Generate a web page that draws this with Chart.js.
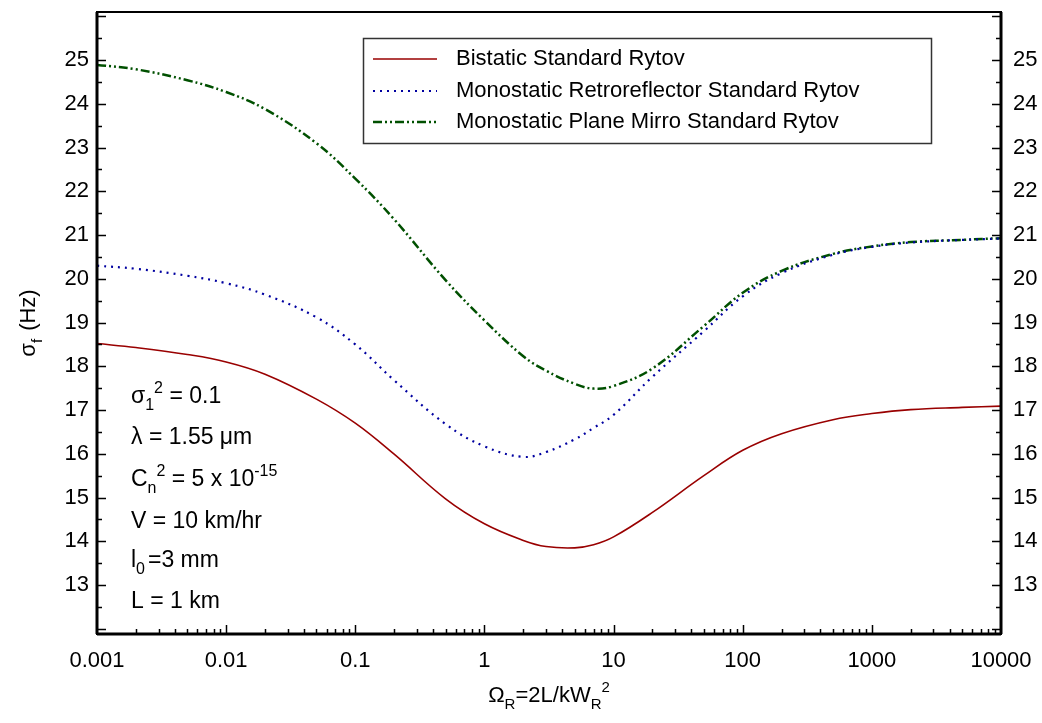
<!DOCTYPE html>
<html>
<head>
<meta charset="utf-8">
<script src="https://cdn.jsdelivr.net/npm/chart.js@4.4.1/dist/chart.umd.min.js"></script>
<style>
	html, body { margin: 0; padding: 0; background: #fff; }
	#wrap { width: 1042px; height: 723px; position: relative; }
</style>
</head>
<body>
<div id="wrap"><canvas id="chart"></canvas></div>
<script>
// x values (Omega_R, log axis)
const omegaR = [0.001, 0.002, 0.005, 0.01, 0.02, 0.05, 0.1, 0.2, 0.5, 1, 2, 3, 5, 7, 10, 20, 50, 100, 200, 500, 1000, 2000, 5000, 10000];

// sigma_f (Hz)
const bistatic = [18.52, 18.43, 18.27, 18.10, 17.82, 17.25, 16.70, 15.99, 14.97, 14.40, 14.02, 13.88, 13.85, 13.92, 14.10, 14.66, 15.50, 16.08, 16.46, 16.78, 16.92, 17.01, 17.06, 17.09];
const monoRetro = [20.30, 20.23, 20.07, 19.90, 19.64, 19.12, 18.50, 17.68, 16.68, 16.17, 15.93, 16.04, 16.33, 16.59, 16.89, 17.76, 18.80, 19.60, 20.13, 20.55, 20.73, 20.83, 20.89, 20.92];
const monoMirror = [24.89, 24.79, 24.54, 24.27, 23.88, 23.10, 22.29, 21.36, 19.97, 19.05, 18.23, 17.90, 17.60, 17.49, 17.55, 17.95, 18.92, 19.68, 20.18, 20.57, 20.74, 20.84, 20.89, 20.93];

const seriesLabels = [
	'Bistatic Standard Rytov',
	'Monostatic Retroreflector Standard Rytov',
	'Monostatic Plane Mirro Standard Rytov',
];

// tick labels
const xTicks = [0.001, 0.01, 0.1, 1, 10, 100, 1000, 10000];
const xTickLabels = ['0.001', '0.01', '0.1', '1', '10', '100', '1000', '10000'];
const yTicks = [13, 14, 15, 16, 17, 18, 19, 20, 21, 22, 23, 24, 25];

const FONT = '"Liberation Sans", Arial, sans-serif';

let toPoints = (ys) => ys.map((y, i) => ({ x: omegaR[i], y: y }));

// draw text with sub/superscript parts, returns end x
let drawRich = (ctx, parts, x, y, size) => {
	let cx = x;
	parts.forEach(p => {
		let s = p.sub || p.sup ? Math.round(size * 0.7) : size;
		let dy = p.sub ? size * 0.3 : (p.sup ? -size * 0.45 : 0);
		ctx.font = s + 'px ' + FONT;
		ctx.fillText(p.t, cx, y + dy);
		cx += ctx.measureText(p.t).width + (p.gap || 0);
	});
	return cx;
};

let richWidth = (ctx, parts, size) => {
	let w = 0;
	parts.forEach(p => {
		let s = p.sub || p.sup ? Math.round(size * 0.7) : size;
		ctx.font = s + 'px ' + FONT;
		w += ctx.measureText(p.t).width + (p.gap || 0);
	});
	return w;
};

// frame plus inward tick marks
let frameAndTicks = {
	id: 'frameAndTicks',
	afterDraw (chart) {
		let { ctx, chartArea: a, scales } = chart;
		ctx.save();
		ctx.strokeStyle = '#000';

		// y ticks, left and right
		ctx.lineWidth = 1.5;
		for (let v = 12; v <= 26; v += 0.5) {
			let py = Math.round(scales.y.getPixelForValue(v)) + 0.5;
			if (py < a.top + 2 || py > a.bottom - 2) { continue; }
			let len = Number.isInteger(v) ? 9 : 5;
			ctx.beginPath();
			ctx.moveTo(a.left, py); ctx.lineTo(a.left + len, py);
			ctx.moveTo(a.right, py); ctx.lineTo(a.right - len, py);
			ctx.stroke();
		}

		// x ticks, bottom only
		for (let d = -3; d < 4; d++) {
			for (let m = 1; m <= 9; m++) {
				let v = m * Math.pow(10, d);
				let px = Math.round(scales.x.getPixelForValue(v)) + 0.5;
				let len = m === 1 ? 9 : 5;
				if (m === 1 && d === -3) { continue; }
				ctx.beginPath();
				ctx.moveTo(px, a.bottom); ctx.lineTo(px, a.bottom - len);
				ctx.stroke();
			}
		}

		// frame
		ctx.lineWidth = 2;
		ctx.strokeRect(a.left, a.top, a.right - a.left, a.bottom - a.top);
		ctx.lineWidth = 3;
		ctx.beginPath();
		ctx.moveTo(a.left, a.top); ctx.lineTo(a.left, a.bottom);
		ctx.moveTo(a.right, a.top); ctx.lineTo(a.right, a.bottom);
		ctx.moveTo(a.left, a.bottom); ctx.lineTo(a.right, a.bottom);
		ctx.stroke();
		ctx.restore();
	},
};

// legend box at the top
let legendBox = {
	id: 'legendBox',
	afterDraw (chart) {
		let { ctx } = chart;
		ctx.save();
		ctx.fillStyle = '#fff';
		ctx.fillRect(363, 38, 568, 105);
		ctx.strokeStyle = '#333';
		ctx.lineWidth = 1.5;
		ctx.strokeRect(363.5, 38.5, 568, 105);
		let rows = [59, 91, 122];
		chart.data.datasets.forEach((ds, i) => {
			ctx.strokeStyle = ds.borderColor;
			ctx.lineWidth = ds.borderWidth;
			ctx.setLineDash(ds.borderDash || []);
			ctx.beginPath();
			ctx.moveTo(373, rows[i]);
			ctx.lineTo(437, rows[i]);
			ctx.stroke();
			ctx.setLineDash([]);
			ctx.fillStyle = '#000';
			ctx.font = '22px ' + FONT;
			ctx.textBaseline = 'middle';
			ctx.fillText(ds.label, 456, rows[i]);
		});
		ctx.restore();
	},
};

// parameter notes and axis titles
let notesAndTitles = {
	id: 'notesAndTitles',
	afterDraw (chart) {
		let { ctx, chartArea: a } = chart;
		ctx.save();
		ctx.fillStyle = '#000';
		ctx.textBaseline = 'alphabetic';
		let size = 22;
		let notes = [
			[{ t: 'σ' }, { t: '1', sub: true }, { t: '2', sup: true }, { t: ' = 0.1' }],
			[{ t: 'λ = 1.55 μm' }],
			[{ t: 'C' }, { t: 'n', sub: true }, { t: '2', sup: true }, { t: ' = 5 x 10' }, { t: '-15', sup: true }],
			[{ t: 'V = 10 km/hr' }],
			[{ t: 'l' }, { t: '0', sub: true, gap: 3 }, { t: '=3 mm' }],
			[{ t: 'L = 1 km' }],
		];
		let base = [403, 444, 486, 528, 567, 608];
		notes.forEach((parts, i) => drawRich(ctx, parts, 131, base[i], 23));

		// x title
		let xt = [{ t: 'Ω' }, { t: 'R', sub: true }, { t: '=2L/kW' }, { t: 'R', sub: true }, { t: '2', sup: true }];
		let w = richWidth(ctx, xt, size);
		drawRich(ctx, xt, (a.left + a.right) / 2 - w / 2, 702, size);

		// y title, rotated
		let yt = [{ t: 'σ' }, { t: 'f', sub: true, gap: 2 }, { t: ' (Hz)' }];
		let wy = richWidth(ctx, yt, size);
		ctx.translate(35, 323);
		ctx.rotate(-Math.PI / 2);
		drawRich(ctx, yt, -wy / 2, 0, size);
		ctx.restore();
	},
};

let tickFont = { family: FONT, size: 22 };

// drop label-based padding so the plot area sits where the reference has it
let noLabelPadding = (scale) => {
	scale.paddingTop = 0;
	scale.paddingBottom = 0;
	scale.paddingLeft = 0;
	scale.paddingRight = 0;
};

new Chart(document.getElementById('chart'), {
	type: 'line',
	data: {
		datasets: [
			{
				label: seriesLabels[0],
				data: toPoints(bistatic),
				borderColor: '#990000',
				borderWidth: 1.6,
				pointRadius: 0,
				tension: 0.4,
			},
			{
				label: seriesLabels[1],
				data: toPoints(monoRetro),
				borderColor: '#0000a0',
				borderWidth: 2.2,
				borderDash: [2, 5],
				pointRadius: 0,
				tension: 0.4,
			},
			{
				label: seriesLabels[2],
				data: toPoints(monoMirror),
				borderColor: '#005000',
				borderWidth: 2.5,
				borderDash: [9, 3, 2, 3, 2, 3],
				pointRadius: 0,
				tension: 0.4,
			},
		],
	},
	options: {
		responsive: true,
		maintainAspectRatio: false,
		animation: false,
		layout: { padding: { top: 12, left: 0, right: 0, bottom: 0 } },
		plugins: {
			legend: { display: false },
			tooltip: { enabled: false },
		},
		scales: {
			x: {
				type: 'logarithmic',
				min: 0.001,
				max: 10000,
				grid: { display: false },
				border: { display: false },
				afterBuildTicks: (scale) => { scale.ticks = xTicks.map(v => ({ value: v })); },
				afterFit: (scale) => { scale.height = 89; noLabelPadding(scale); },
				ticks: {
					autoSkip: false,
					maxRotation: 0,
					padding: 6,
					color: '#000',
					font: tickFont,
					callback: (v) => xTickLabels[xTicks.indexOf(v)] || '',
				},
			},
			y: {
				type: 'linear',
				position: 'left',
				min: 11.88,
				max: 26.1,
				grid: { display: false },
				border: { display: false },
				afterBuildTicks: (scale) => { scale.ticks = yTicks.map(v => ({ value: v })); },
				afterFit: (scale) => { scale.width = 97; noLabelPadding(scale); },
				ticks: { padding: 0, color: '#000', font: tickFont },
			},
			y2: {
				type: 'linear',
				position: 'right',
				min: 11.88,
				max: 26.1,
				grid: { display: false },
				border: { display: false },
				afterBuildTicks: (scale) => { scale.ticks = yTicks.map(v => ({ value: v })); },
				afterFit: (scale) => { scale.width = 41; noLabelPadding(scale); },
				ticks: { padding: 4, color: '#000', font: tickFont },
			},
		},
	},
	plugins: [ frameAndTicks, legendBox, notesAndTitles ],
});
</script>
</body>
</html>
